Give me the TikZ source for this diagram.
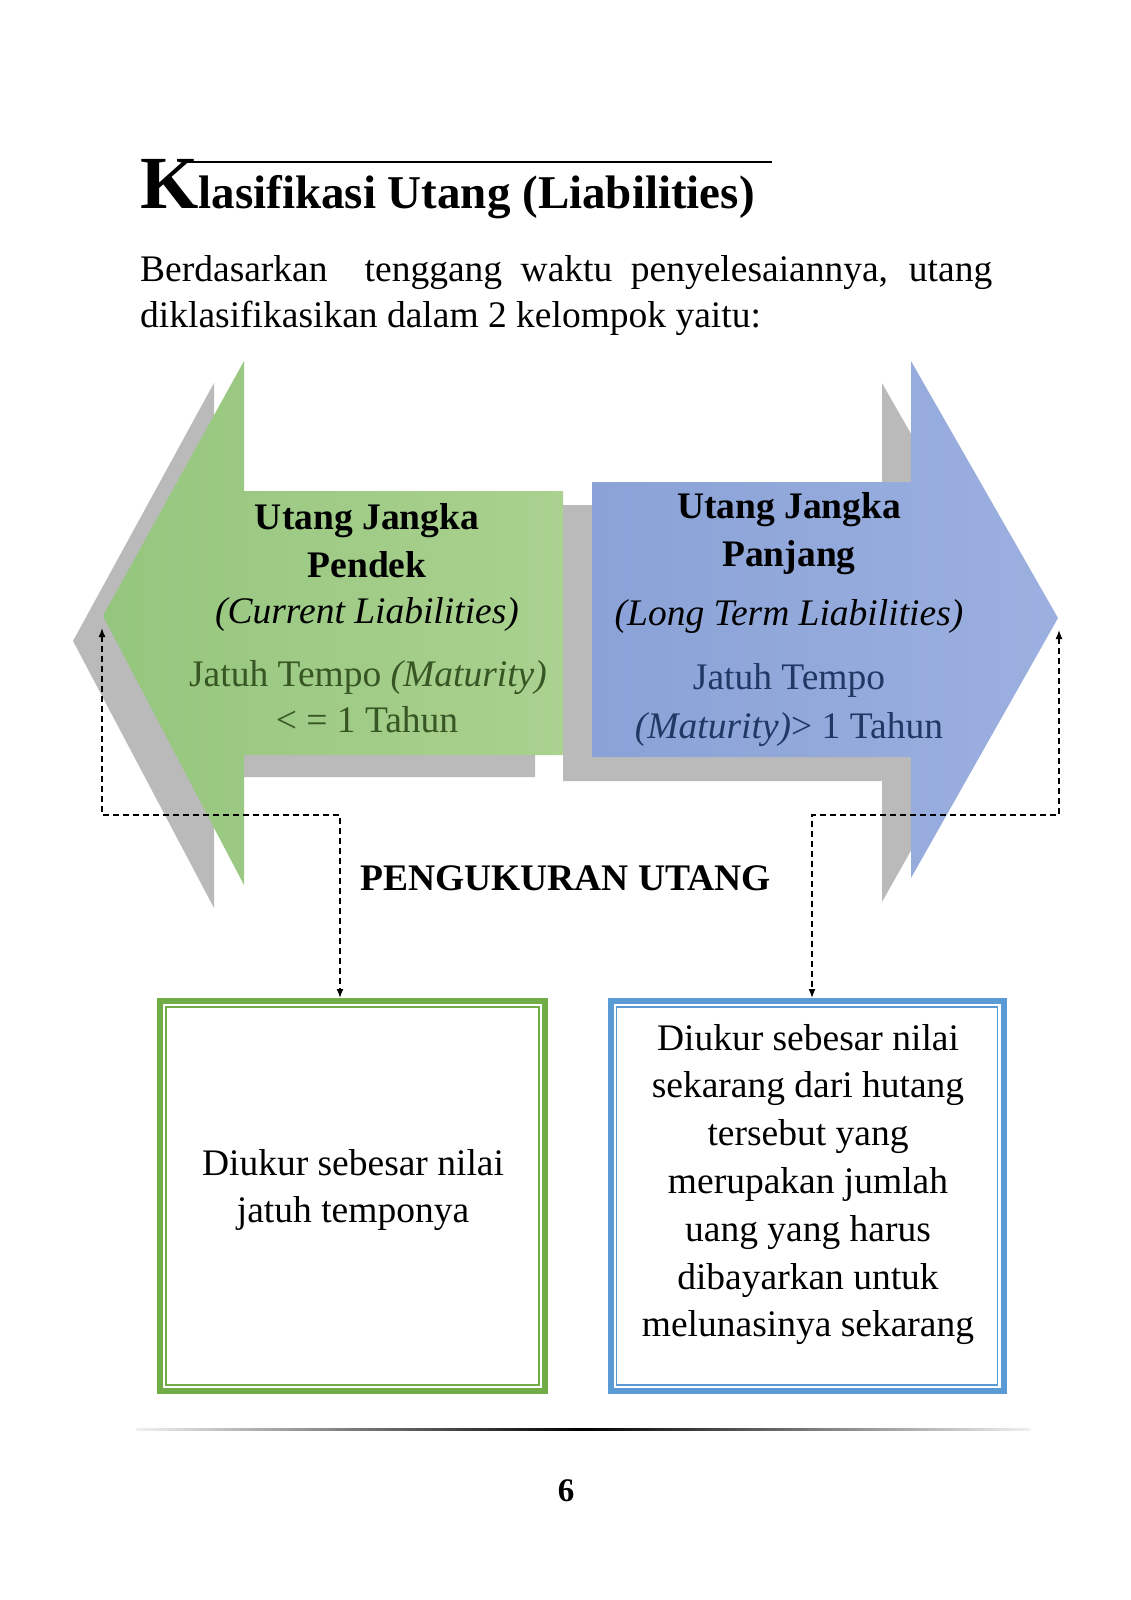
\documentclass[tikz,border=0pt]{standalone}
\usepackage{fontspec}
\setmainfont{Liberation Serif}
\usetikzlibrary{arrows.meta}
\definecolor{grnA}{HTML}{95C67E}
\definecolor{grnB}{HTML}{AAD18F}
\definecolor{bluA}{HTML}{8AA2D7}
\definecolor{bluB}{HTML}{9CB0E0}
\definecolor{shd}{HTML}{BABABA}
\definecolor{grnT}{HTML}{375623}
\definecolor{bluT}{HTML}{1F3864}
\definecolor{grnBox}{HTML}{70AD47}
\definecolor{bluBox}{HTML}{5B9BD5}
\begin{document}
\begin{tikzpicture}[x=1pt,y=-1pt,
  txt/.style={inner sep=0pt, anchor=base, font=\fontsize{37.5}{45}\selectfont},
  btxt/.style={txt, font=\fontsize{37.5}{45}\selectfont\bfseries},
  conn/.style={line width=1.4pt, dash pattern=on 6pt off 4pt, >={Latex[length=9pt,width=7pt]}, <->},
  boxo/.style={draw, line width=6pt, fill=white, minimum height=390pt, inner sep=0pt}
]
\fill[white] (0,0) rectangle (1131,1600);
\useasboundingbox (0,0) rectangle (1131,1600);

% ---------- title ----------
\draw[line width=1.2pt] (187,162) -- (772,162);
\node[inner sep=0pt, anchor=base west] (title) at (140,208)
  {{\fontsize{75}{75}\selectfont\bfseries K}{\fontsize{47}{47}\selectfont\bfseries lasifikasi Utang (Liabilities)}};
\node[txt, anchor=base west] (body1) at (140,281)
  {\makebox[852pt][s]{Berdasarkan\ \ tenggang waktu penyelesaiannya, utang}};
\node[txt, anchor=base west] (body2) at (140,327)
  {diklasifikasikan dalam 2 kelompok yaitu:};

% ---------- left (green) arrow ----------
\fill[shd] (73,641) -- (214,383) -- (214,513) -- (535,513) -- (535,777)
  -- (214,777) -- (214,908) -- cycle;
\shade[left color=grnA, right color=grnB] (103,616) -- (244,361) -- (244,491)
  -- (563,491) -- (563,755) -- (244,755) -- (244,885) -- cycle;

% ---------- right (blue) arrow ----------
\fill[shd] (563,505) -- (882,505) -- (882,383) -- (1029,641) -- (882,902)
  -- (882,781) -- (563,781) -- cycle;
\shade[left color=bluA, right color=bluB] (592,482) -- (911,482) -- (911,361)
  -- (1058,618) -- (911,878) -- (911,757) -- (592,757) -- cycle;

% ---------- arrow texts ----------
\node[btxt] (gA) at (367,529) {Utang Jangka};
\node[btxt] (gB) at (367,577) {Pendek};
\node[txt] (gC) at (367,623) {\itshape (Current Liabilities)};
\node[txt, text=grnT] (gD) at (368,686) {Jatuh Tempo \textit{(Maturity)}};
\node[txt, text=grnT] (gE) at (367,732) {< = 1 Tahun};

\node[btxt] (bA) at (789,518) {Utang Jangka};
\node[btxt] (bB) at (789,566) {Panjang};
\node[txt] (bC) at (789,625) {\itshape (Long Term Liabilities)};
\node[txt, text=bluT] (bD) at (789,689) {Jatuh Tempo};
\node[txt, text=bluT] (bE) at (789,738) {\textit{(Maturity)}> 1 Tahun};

\node[btxt] (meas) at (565.5,890) {PENGUKURAN UTANG};

% ---------- boxes ----------
\node[boxo, draw=grnBox, minimum width=385pt] (boxL) at (352.5,1196) {};
\draw[grnBox, line width=1.6pt] ([shift={(9,9)}]boxL.north west) rectangle ([shift={(-9,-9)}]boxL.south east);
\node[boxo, draw=bluBox, minimum width=393pt] (boxR) at (807,1196) {};
\draw[bluBox, line width=1.6pt] ([shift={(9,9)}]boxR.north west) rectangle ([shift={(-9,-9)}]boxR.south east);

\node[txt] (l1) at (353,1175) {Diukur sebesar nilai};
\node[txt] (l2) at (353,1222) {jatuh temponya};

\node[txt] (r1) at (808,1050) {Diukur sebesar nilai};
\node[txt] (r2) at (808,1097.8) {sekarang dari hutang};
\node[txt] (r3) at (808,1145.6) {tersebut yang};
\node[txt] (r4) at (808,1193.4) {merupakan jumlah};
\node[txt] (r5) at (808,1241.2) {uang yang harus};
\node[txt] (r6) at (808,1289) {dibayarkan untuk};
\node[txt] (r7) at (808,1336.8) {melunasinya sekarang};

% ---------- connectors ----------
\coordinate (tipL) at (102,628);
\coordinate (jL) at (340,815);
\coordinate (tipR) at (1059,630);
\coordinate (jR) at (812,815);
\draw[conn] (tipL) |- (jL) -- (jL |- boxL.north);
\draw[conn] (tipR) |- (jR) -- (jR |- boxR.north);

% ---------- footer ----------
\shade[left color=gray!12, right color=gray!12, middle color=black] (136,1428) rectangle (1030,1430.4);
\node[inner sep=0pt, anchor=base, font=\fontsize{33}{33}\selectfont\bfseries] (pg) at (566,1501) {6};
\end{tikzpicture}
\end{document}
